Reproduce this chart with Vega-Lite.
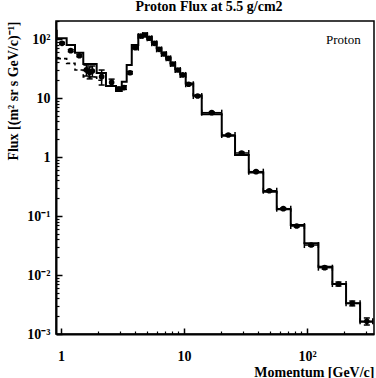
{
  "$schema": "https://vega.github.io/schema/vega-lite/v6.json",
  "width": 318,
  "height": 313,
  "autosize": "none",
  "padding": {"left": 56, "top": 21, "right": 2, "bottom": 44},
  "background": "white",
  "config": {"view": {"stroke": "black", "strokeWidth": 1.5}, "font": "Liberation Serif"},
  "title": {"text": "Proton Flux at 5.5 g/cm2", "font": "Liberation Serif", "fontSize": 14, "fontWeight": "bold", "color": "black", "anchor": "middle", "dx": -6, "dy": 12, "offset": 4, "baseline": "bottom"},
  "datasets": {
    "pts": [
      {"p": 1.02, "f": 84.6, "fl": 81.5, "fh": 87.8},
      {"p": 1.20, "f": 63.4, "fl": 61, "fh": 66},
      {"p": 1.41, "f": 52.1, "fl": 50, "fh": 54.3},
      {"p": 1.61, "f": 29.9, "fl": 23.6, "fh": 36.2},
      {"p": 1.71, "f": 27.1, "fl": 21.1, "fh": 33.6},
      {"p": 1.80, "f": 28.7, "fl": 22.8, "fh": 34.9},
      {"p": 2.14, "f": 23.0, "fl": 16.6, "fh": 29.8},
      {"p": 2.58, "f": 18.4, "fl": 16.0, "fh": 20.9},
      {"p": 2.96, "f": 14.2, "fl": 13.2, "fh": 15.3},
      {"p": 3.25, "f": 15.0, "fl": 14.0, "fh": 16.1},
      {"p": 3.64, "f": 26.8, "fl": 25.6, "fh": 28.1},
      {"p": 4.02, "f": 71.3, "fl": 68.5, "fh": 74.2, "lo": 3.76, "hi": 4.25},
      {"p": 4.45, "f": 112, "fl": 108, "fh": 116, "lo": 4.25, "hi": 4.63},
      {"p": 4.82, "f": 117, "fl": 113, "fh": 121, "lo": 4.63, "hi": 5.02},
      {"p": 5.22, "f": 103, "fl": 99.5, "fh": 106.5, "lo": 5.02, "hi": 5.47},
      {"p": 5.74, "f": 84.6, "fl": 81.8, "fh": 87.4, "lo": 5.47, "hi": 5.99},
      {"p": 6.27, "f": 66.8, "fl": 64.6, "fh": 69, "lo": 5.99, "hi": 6.56},
      {"p": 6.88, "f": 55.7, "fl": 53.9, "fh": 57.5, "lo": 6.56, "hi": 7.16},
      {"p": 7.45, "f": 47.1, "fl": 45.6, "fh": 48.6, "lo": 7.16, "hi": 7.77},
      {"p": 8.09, "f": 37.7, "fl": 36.5, "fh": 38.9, "lo": 7.77, "hi": 8.48},
      {"p": 8.89, "f": 29.8, "fl": 28.8, "fh": 30.8, "lo": 8.48, "hi": 9.31},
      {"p": 9.76, "f": 24.6, "fl": 23.8, "fh": 25.4, "lo": 9.31, "hi": 10.32},
      {"p": 10.9, "f": 17.1, "fl": 16.5, "fh": 17.7, "lo": 10.32, "hi": 11.9},
      {"p": 12.9, "f": 10.8, "fl": 10.4, "fh": 11.2, "lo": 11.9, "hi": 13.93},
      {"p": 16.8, "f": 5.64, "fl": 5.45, "fh": 5.83, "lo": 13.93, "hi": 20.26},
      {"p": 22.9, "f": 2.36, "fl": 2.28, "fh": 2.44, "lo": 20.26, "hi": 25.98},
      {"p": 29.4, "f": 1.17, "fl": 1.13, "fh": 1.21, "lo": 25.98, "hi": 33.6},
      {"p": 38.5, "f": 0.564, "fl": 0.545, "fh": 0.583, "lo": 33.6, "hi": 44.1},
      {"p": 49.3, "f": 0.268, "fl": 0.259, "fh": 0.277, "lo": 44.1, "hi": 56.7},
      {"p": 64.1, "f": 0.133, "fl": 0.128, "fh": 0.138, "lo": 56.7, "hi": 73.7},
      {"p": 82.4, "f": 0.0677, "fl": 0.0652, "fh": 0.0702, "lo": 73.7, "hi": 95.1},
      {"p": 108, "f": 0.0322, "fl": 0.0308, "fh": 0.0336, "lo": 95.1, "hi": 123.6},
      {"p": 139, "f": 0.0133, "fl": 0.0126, "fh": 0.014, "lo": 123.6, "hi": 160.6},
      {"p": 180, "f": 0.00703, "fl": 0.0065, "fh": 0.0076, "lo": 160.6, "hi": 207.5},
      {"p": 233, "f": 0.00331, "fl": 0.003, "fh": 0.00362, "lo": 207.5, "hi": 269.8},
      {"p": 306, "f": 0.00164, "fl": 0.00142, "fh": 0.00187, "lo": 269.8, "hi": 342}
    ],
    "solid": [
      {"e": 0.814, "v": 138}, {"e": 0.923, "v": 103}, {"e": 1.112, "v": 79}, {"e": 1.30, "v": 58.6},
      {"e": 1.518, "v": 37.7}, {"e": 1.95, "v": 26.5}, {"e": 2.32, "v": 16}, {"e": 2.80, "v": 13.1},
      {"e": 3.12, "v": 18.9}, {"e": 3.42, "v": 36.2}, {"e": 3.76, "v": 79}, {"e": 4.25, "v": 117},
      {"e": 4.63, "v": 124}, {"e": 5.02, "v": 108}, {"e": 5.47, "v": 89}, {"e": 5.99, "v": 70},
      {"e": 6.56, "v": 58}, {"e": 7.16, "v": 48.5}, {"e": 7.77, "v": 39.2}, {"e": 8.48, "v": 31},
      {"e": 9.31, "v": 25.5}, {"e": 10.32, "v": 17.7}, {"e": 11.9, "v": 11.0}, {"e": 13.93, "v": 5.3},
      {"e": 20.26, "v": 2.30}, {"e": 25.98, "v": 1.08}, {"e": 33.6, "v": 0.546}, {"e": 44.1, "v": 0.258},
      {"e": 56.7, "v": 0.130}, {"e": 73.7, "v": 0.0703}, {"e": 95.1, "v": 0.0344}, {"e": 123.6, "v": 0.0138},
      {"e": 160.6, "v": 0.00703}, {"e": 207.5, "v": 0.00331}, {"e": 269.8, "v": 0.00161}, {"e": 342, "v": 0.00161}
    ],
    "dash": [
      {"e": 0.814, "v": 46.6}, {"e": 0.923, "v": 46.6}, {"e": 1.112, "v": 38.7}, {"e": 1.30, "v": 29.8},
      {"e": 1.518, "v": 22.7}, {"e": 1.95, "v": 20}, {"e": 2.32, "v": 16}, {"e": 2.80, "v": 16}
    ]
  },
  "layer": [
    {
      "data": {"name": "solid"},
      "mark": {"type": "line", "interpolate": "step-after", "color": "black", "strokeWidth": 2, "clip": true},
      "encoding": {
        "x": {"field": "e", "type": "quantitative", "scale": {"type": "log", "domain": [0.911, 350], "nice": false},
          "axis": {"orient": "bottom", "values": [1, 10, 100], "labelExpr": "datum.value >= 50 ? '10²' : datum.value >= 5 ? '10' : '1'",
            "tickSize": -6, "tickWidth": 1.5, "tickColor": "black", "domainColor": "black", "domainWidth": 2, "grid": false,
            "labelFont": "Liberation Serif", "labelFontWeight": "bold", "labelFontSize": 14, "labelColor": "black", "labelPadding": 21,
            "title": "Momentum [GeV/c]", "titleFont": "Liberation Serif", "titleFontWeight": "bold", "titleFontSize": 14, "titleColor": "black",
            "titleAnchor": "end", "titlePadding": 2}},
        "y": {"field": "v", "type": "quantitative", "scale": {"type": "log", "domain": [0.001, 202], "nice": false},
          "axis": {"orient": "left", "values": [0.001, 0.01, 0.1, 1, 10, 100],
            "labelExpr": "datum.value >= 50 ? '10²' : datum.value >= 5 ? '10' : datum.value >= 0.5 ? '1' : datum.value >= 0.05 ? '10⁻¹' : datum.value >= 0.005 ? '10⁻²' : '10⁻³'",
            "tickSize": -6, "tickWidth": 1.5, "tickColor": "black", "domainColor": "black", "domainWidth": 2, "grid": false,
            "labelFont": "Liberation Serif", "labelFontWeight": "bold", "labelFontSize": 14, "labelColor": "black", "labelPadding": 12,
            "title": "Flux [(m² sr s GeV/c)⁻¹]", "titleFont": "Liberation Serif", "titleFontWeight": "bold", "titleFontSize": 14, "titleColor": "black",
            "titleAnchor": "end", "titlePadding": 6}}
      }
    },
    {
      "data": {"name": "dash"},
      "mark": {"type": "line", "interpolate": "step-after", "color": "black", "strokeWidth": 1.6, "strokeDash": [4, 3], "clip": true},
      "encoding": {
        "x": {"field": "e", "type": "quantitative", "scale": {"type": "log", "domain": [0.911, 350], "nice": false},
          "axis": {"orient": "bottom", "values": [2, 3, 4, 5, 6, 7, 8, 9, 20, 30, 40, 50, 60, 70, 80, 90, 200, 300], "labels": false, "domain": false,
            "tickSize": -3, "tickWidth": 1.2, "tickColor": "black", "grid": false, "title": null}},
        "y": {"field": "v", "type": "quantitative", "scale": {"type": "log", "domain": [0.001, 202], "nice": false},
          "axis": {"orient": "left", "values": [0.002, 0.003, 0.004, 0.005, 0.006, 0.007, 0.008, 0.009, 0.02, 0.03, 0.04, 0.05, 0.06, 0.07, 0.08, 0.09, 0.2, 0.3, 0.4, 0.5, 0.6, 0.7, 0.8, 0.9, 2, 3, 4, 5, 6, 7, 8, 9, 20, 30, 40, 50, 60, 70, 80, 90, 200],
            "labels": false, "domain": false, "tickSize": -3, "tickWidth": 1.2, "tickColor": "black", "grid": false, "title": null}}
      }
    },
    {
      "data": {"name": "pts"},
      "transform": [{"filter": "isValid(datum.lo)"}],
      "mark": {"type": "rule", "color": "black", "strokeWidth": 1.5, "clip": true},
      "encoding": {
        "x": {"field": "lo", "type": "quantitative", "scale": {"type": "log", "domain": [0.911, 350], "nice": false}, "axis": null},
        "x2": {"field": "hi"},
        "y": {"field": "f", "type": "quantitative", "scale": {"type": "log", "domain": [0.001, 202], "nice": false}, "axis": null}
      }
    },
    {
      "data": {"name": "pts"},
      "transform": [{"filter": "isValid(datum.lo)"}, {"fold": ["lo", "hi"], "as": ["k", "edge"]}],
      "mark": {"type": "point", "shape": "M0,-1L0,1", "size": 36, "filled": false, "color": "black", "strokeWidth": 1.5, "opacity": 1, "clip": true},
      "encoding": {
        "x": {"field": "edge", "type": "quantitative", "scale": {"type": "log", "domain": [0.911, 350], "nice": false}, "axis": null},
        "y": {"field": "f", "type": "quantitative", "scale": {"type": "log", "domain": [0.001, 202], "nice": false}, "axis": null}
      }
    },
    {
      "data": {"name": "pts"},
      "mark": {"type": "rule", "color": "black", "strokeWidth": 1.5, "clip": true},
      "encoding": {
        "x": {"field": "p", "type": "quantitative", "scale": {"type": "log", "domain": [0.911, 350], "nice": false}, "axis": null},
        "y": {"field": "fl", "type": "quantitative", "scale": {"type": "log", "domain": [0.001, 202], "nice": false}, "axis": null},
        "y2": {"field": "fh"}
      }
    },
    {
      "data": {"name": "pts"},
      "transform": [{"fold": ["fl", "fh"], "as": ["k", "ey"]}],
      "mark": {"type": "point", "shape": "M-1,0L1,0", "size": 36, "filled": false, "color": "black", "strokeWidth": 1.5, "opacity": 1, "clip": true},
      "encoding": {
        "x": {"field": "p", "type": "quantitative", "scale": {"type": "log", "domain": [0.911, 350], "nice": false}, "axis": null},
        "y": {"field": "ey", "type": "quantitative", "scale": {"type": "log", "domain": [0.001, 202], "nice": false}, "axis": null}
      }
    },
    {
      "data": {"name": "pts"},
      "mark": {"type": "point", "shape": "circle", "filled": true, "size": 32, "opacity": 1, "clip": true},
      "encoding": {
        "x": {"field": "p", "type": "quantitative", "scale": {"type": "log", "domain": [0.911, 350], "nice": false}, "axis": null},
        "y": {"field": "f", "type": "quantitative", "scale": {"type": "log", "domain": [0.001, 202], "nice": false}, "axis": null},
        "color": {"datum": "Proton", "type": "nominal", "scale": {"range": ["black"]},
          "legend": {"orient": "none", "legendX": 257, "legendY": 12, "title": null, "padding": 0, "symbolSize": 0, "symbolOpacity": 0, "symbolStrokeWidth": 0, "labelOffset": 0,
            "labelFont": "Liberation Serif", "labelFontSize": 13, "labelColor": "black"}}
      }
    }
  ],
  "resolve": {"axis": {"x": "independent", "y": "independent"}}
}
